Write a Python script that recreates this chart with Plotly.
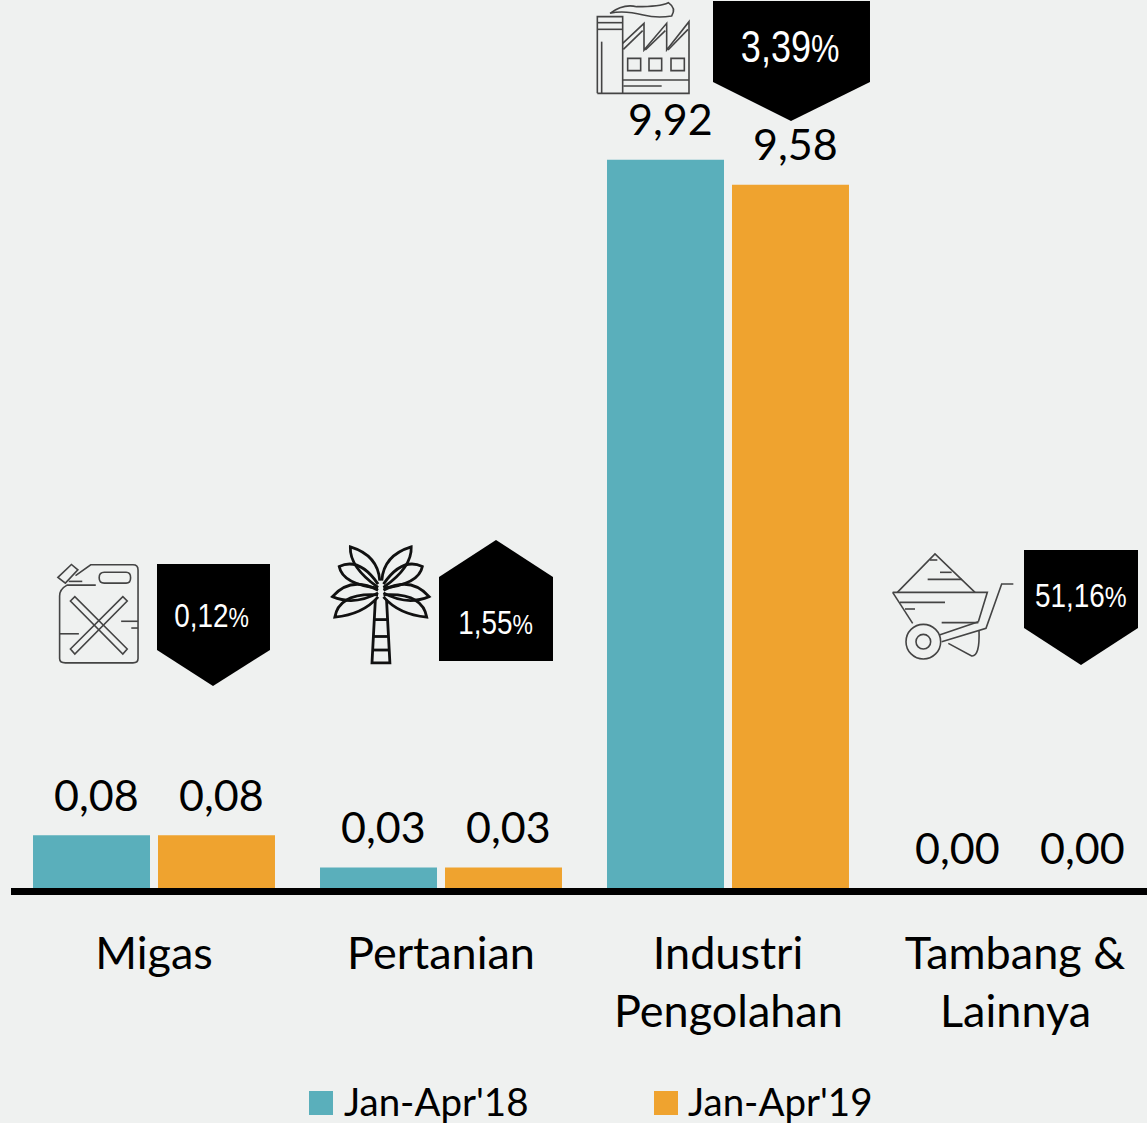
import re
import plotly.graph_objects as go

# ---------- data ----------
categories = ["Migas", "Pertanian", "Industri Pengolahan", "Tambang & Lainnya"]
tick_first = ["Migas", "Pertanian", "Industri", "Tambang &"]
tick_second = ["", "", "Pengolahan", "Lainnya"]
series_names = ["Jan-Apr'18", "Jan-Apr'19"]
bar_18 = [0.72, 0.28, 9.92, 0.0]
bar_19 = [0.72, 0.28, 9.58, 0.0]
labels_18 = ["0,08", "0,03", "9,92", "0,00"]
labels_19 = ["0,08", "0,03", "9,58", "0,00"]
badge_num = ["0,12", "1,55", "3,39", "51,16"]

# ---------- style ----------
BG = "#EFF1F0"
TEAL = "#5AAFBB"
ORANGE = "#EFA32F"
FONT = "Lato"
NARROW = "Liberation Sans"
LBL = 43
CAT = 45
W, H = 1147, 1123
L, B = 11, 888
PW, PH = W - L, B


def px(x):
    return (x - L) / PW


def py(y):
    return (B - y) / PH


def conv(path, ox, oy, s):
    nums = iter(range(10**6))

    def rep(m):
        i = next(nums)
        v = float(m.group(0))
        return f"{px(ox + v / s):.5f}" if i % 2 == 0 else f"{py(oy + v / s):.5f}"

    return re.sub(r"-?\d+\.?\d*", rep, path)


def circle(cx, cy, r):
    k = 0.5523 * r
    return (f"M {cx+r} {cy} C {cx+r} {cy+k} {cx+k} {cy+r} {cx} {cy+r} "
            f"C {cx-k} {cy+r} {cx-r} {cy+k} {cx-r} {cy} "
            f"C {cx-r} {cy-k} {cx-k} {cy-r} {cx} {cy-r} "
            f"C {cx+k} {cy-r} {cx+r} {cy-k} {cx+r} {cy} Z")


shapes = []


def stroke(paths, ox, oy, s, color, width):
    for p in paths:
        shapes.append(dict(type="path", xref="paper", yref="paper", path=conv(p, ox, oy, s),
                           line=dict(color=color, width=width), fillcolor="rgba(0,0,0,0)"))


def badge(points):
    d = "M " + " L ".join(f"{a} {b}" for a, b in points) + " Z"
    shapes.append(dict(type="path", xref="paper", yref="paper", path=conv(d, 0, 0, 1),
                       line=dict(width=0), fillcolor="#000000"))


# jerry can
stroke([
    "M 105 135 L 150 103 L 275 103 Q 290 103 290 118 L 290 380 Q 290 393 275 393 L 75 393 Q 58 393 58 380 L 58 195 Q 58 175 80 163 L 165 163",
    "M 53 140 L 93 102 L 112 118 L 75 157 Z",
    "M 190 125 L 255 125 Q 268 125 268 141 Q 268 157 255 157 L 190 157 Q 175 157 175 141 Q 175 125 190 125 Z",
    "M 90 210 L 103 197 L 258 352 L 245 367 Z",
    "M 245 197 L 258 210 L 103 367 L 90 352 Z",
    "M 240 270 L 290 270", "M 270 290 L 290 290", "M 58 307 L 115 307",
    "M 85 152 L 125 152",
], 40, 530, 2.958, "#444444", 1.6)

# palm
fronds = [
    "M 1005 150 Q 1000 75 918 50 Q 915 110 1000 170",
    "M 1000 160 Q 945 80 885 108 Q 895 160 1000 172",
    "M 1000 178 Q 920 135 865 197 Q 930 225 1000 186",
    "M 1000 192 Q 885 185 872 258 Q 955 250 1000 198",
]
mirror = []
for f in fronds:
    t = f.split()
    out = []
    isx = True
    for tok in t:
        if tok.isalpha():
            out.append(tok)
            isx = True
        else:
            out.append(str(2016 - int(tok)) if isx else tok)
            isx = not isx
    mirror.append(" ".join(out))
stroke(fronds + mirror + [
    "M 992 205 L 982 393 L 1035 393 L 1025 205",
    "M 988 265 L 1030 265", "M 986 315 L 1032 315", "M 984 355 L 1034 355",
], 40, 530, 2.958, "#111111", 2.8)

# factory
stroke([
    "M 52 280 L 52 50 L 128 50 L 128 280",
    "M 52 68 L 128 68", "M 52 88 L 128 88", "M 65 125 L 65 280",
    "M 90 40 Q 130 10 170 20 Q 240 20 265 8 Q 290 25 275 48 Q 230 55 190 45 Q 130 30 90 40",
    "M 128 130 L 192 70 L 192 150 L 260 70 L 260 150 L 327 65 L 327 280 L 52 280",
    "M 130 148 L 188 92", "M 196 150 L 256 92", "M 264 150 L 324 88",
    "M 128 240 L 327 240", "M 130 258 L 245 258",
    "M 143 175 L 182 175 L 182 212 L 143 212 Z",
    "M 207 175 L 245 175 L 245 212 L 207 212 Z",
    "M 273 175 L 313 175 L 313 212 L 273 212 Z",
], 580, 0, 3, "#444444", 1.6)

# wheelbarrow
stroke([
    "M 52 157 L 165 42 L 285 157",
    "M 150 60 L 172 60", "M 180 97 L 215 97", "M 143 118 L 245 118",
    "M 38 157 L 322 157 L 295 245", "M 38 157 L 98 250",
    "M 60 187 L 195 187", "M 75 207 L 105 207", "M 185 248 L 295 248",
    "M 400 132 L 365 132 L 318 265 L 185 305", "M 178 285 L 295 245",
    circle(130, 305, 52), circle(130, 305, 22),
    "M 205 310 L 275 348 Q 300 350 297 270",
], 880, 540, 3, "#444444", 1.6)

# badges
badge([(157, 564), (270, 564), (270, 650), (213, 686), (157, 650)])
badge([(439, 577), (496, 540), (553, 577), (553, 661), (439, 661)])
badge([(713, 1), (870, 1), (870, 82), (791, 121), (713, 82)])
badge([(1024, 550), (1138, 550), (1138, 628), (1081, 665), (1024, 628)])

# legend swatches
for x0, c in ((309, TEAL), (654, ORANGE)):
    shapes.append(dict(type="rect", xref="paper", yref="paper", x0=px(x0), x1=px(x0 + 24),
                       y0=py(1091), y1=py(1115), line=dict(width=0), fillcolor=c))

# ---------- annotations ----------
OFF = 125 / 2 / 287
NUDGE = 5 / 287
ann = []


def note(**k):
    ann.append(dict(showarrow=False, **k))


for i in range(4):
    for vals, labs, sgn in ((bar_18, labels_18, -1), (bar_19, labels_19, 1)):
        note(x=i + sgn * OFF + NUDGE, y=vals[i], xref="x", yref="y", text=labs[i], yshift=41,
             yanchor="middle", xanchor="center", font=dict(family=FONT, size=LBL, color="#000"))
    if tick_second[i]:
        note(x=i, y=py(1010), xref="x", yref="paper", text=tick_second[i], yanchor="middle",
             xanchor="center", font=dict(family=FONT, size=CAT, color="#000"))

for (cx, cy, num, s1, s2) in ((212, 615, badge_num[0], 34, 28), (495, 622, badge_num[1], 34, 28),
                              (790, 47, badge_num[2], 44, 39), (1081, 595, badge_num[3], 34, 30)):
    note(x=px(cx), y=py(cy), xref="paper", yref="paper", xanchor="center", yanchor="middle",
         text=f'{num}<span style="font-size:{s2}px">%</span>',
         font=dict(family=NARROW, size=s1, color="#FFFFFF"))

for x0, name in ((342, series_names[0]), (686, series_names[1])):
    note(x=px(x0), y=py(1101), xref="paper", yref="paper", xanchor="left", yanchor="middle",
         text=name, font=dict(family=FONT, size=38.5, color="#000"))

# ---------- figure ----------
fig = go.Figure()
fig.add_bar(name=series_names[0], x=categories, y=bar_18, marker=dict(color=TEAL, line=dict(width=0)))
fig.add_bar(name=series_names[1], x=categories, y=bar_19, marker=dict(color=ORANGE, line=dict(width=0)))
fig.update_layout(
    width=W, height=H, autosize=False, showlegend=False,
    paper_bgcolor=BG, plot_bgcolor=BG,
    margin=dict(l=L, r=0, t=0, b=H - B, pad=0),
    barmode="group", bargap=0.129, bargroupgap=0.064,
    shapes=shapes, annotations=ann,
    xaxis=dict(type="category", categoryorder="array", categoryarray=categories,
               tickmode="array", tickvals=categories, ticktext=tick_first,
               range=[(L - 154) / 287, (W - 154) / 287],
               showgrid=False, zeroline=False, showline=True, linecolor="#000000", linewidth=7,
               ticks="outside", ticklen=20, tickcolor="rgba(0,0,0,0)",
               tickfont=dict(family=FONT, size=CAT, color="#000")),
    yaxis=dict(range=[0, B / 73.4], visible=False, showgrid=False, zeroline=False),
)
# condense the badge texts to the narrow face used in the reference
post = """
document.body.style.margin='0';document.body.style.overflow='hidden';
document.querySelectorAll('.annotation-text').forEach(function(t){
  if((t.style.fill||'').indexOf('255, 255, 255')>=0){
    var b=t.getBBox(), c=b.x+b.width/2;
    t.setAttribute('transform','translate('+c+',0) scale(0.82,1) translate('+(-c)+',0)');
  }
});
"""
fig.write_html("out.html", config=dict(displayModeBar=False), post_script=post)
